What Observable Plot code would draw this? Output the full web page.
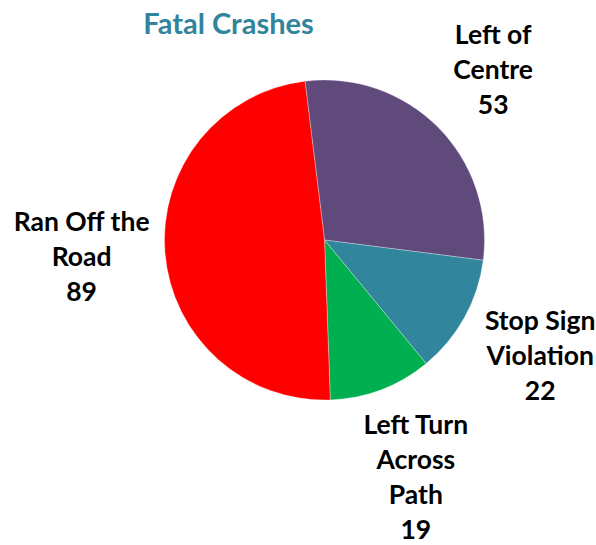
<!DOCTYPE html>
<html>
<head>
<meta charset="utf-8">
<script src="https://cdn.jsdelivr.net/npm/d3@7"></script>
<script src="https://cdn.jsdelivr.net/npm/@observablehq/plot@0.6"></script>
<style>
  html, body { margin: 0; padding: 0; background: #fff; }
  #chart svg { display: block; }
</style>
</head>
<body>
<div id="chart"></div>
<script>
const title = "Fatal Crashes";
const categories = ["Left of Centre", "Stop Sign Violation", "Left Turn Across Path", "Ran Off the Road"];
const labelTexts = ["Left of\nCentre", "Stop Sign\nViolation", "Left Turn\nAcross\nPath", "Ran Off the\nRoad"];
const values = [53, 22, 19, 89];
const colors = ["#604A7B", "#31859C", "#00B050", "#FF0000"];

const W = 596, H = 545;
const cx = 324.5, cy = 240, R = 160;
const startDeg = -7;
const fontFamily = "Lato, 'Open Sans', sans-serif";
const labelSize = 26.5, lineH = 35, gap = 12;

const arcs = d3.pie().sort(null).value(d => d.value)
  .startAngle(startDeg * Math.PI / 180)
  .endAngle((360 + startDeg) * Math.PI / 180)(
    categories.map((c, i) => ({category: c, value: values[i], color: colors[i], label: labelTexts[i] + "\n" + values[i]}))
  );

// place each label box just outside the pie along its slice's mid-angle
const ctx = document.createElement("canvas").getContext("2d");
ctx.font = `bold ${labelSize}px ${fontFamily}`;
const labels = arcs.map(a => {
  const m = (a.startAngle + a.endAngle) / 2;
  const lines = a.data.label.split("\n");
  const w = d3.max(lines, l => ctx.measureText(l).width) / 2;
  const h = lines.length * lineH / 2;
  const s = Math.sin(m), c = Math.cos(m);
  const d = R + gap + w * Math.abs(s) + h * Math.abs(c);
  return {text: a.data.label, x: cx + d * s, y: cy - d * c};
});

function pieMark(index, scales, values_, dimensions, context) {
  const x0 = scales.x(cx), y0 = scales.y(cy);
  const r = scales.x(cx + R) - scales.x(cx);
  const arc = d3.arc().innerRadius(0).outerRadius(r);
  const g = d3.create("svg:g").attr("transform", `translate(${x0},${y0})`);
  g.selectAll("path").data(arcs).join("path")
    .attr("d", arc)
    .attr("fill", d => d.data.color)
    .attr("stroke", "#ffffff")
    .attr("stroke-opacity", 0.5)
    .attr("stroke-width", 0.6);
  return g.node();
}

const chart = Plot.plot({
  width: W,
  height: H,
  margin: 0,
  x: {domain: [0, W], range: [0, W], axis: null},
  y: {domain: [0, H], range: [0, H], axis: null},
  style: {fontFamily, background: "#fff"},
  marks: [
    pieMark,
    Plot.text(labels, {
      x: "x", y: "y", text: "text", dy: -5,
      fontSize: labelSize, fontWeight: "bold", fill: "#000",
      lineHeight: lineH / labelSize, textAnchor: "middle", lineAnchor: "middle"
    }),
    Plot.text([title], {
      x: [228], y: [24], text: d => d,
      fontSize: 29, fontWeight: "bold", fill: "#31849B",
      textAnchor: "middle", lineAnchor: "middle"
    })
  ]
});
document.getElementById("chart").append(chart);
</script>
</body>
</html>
